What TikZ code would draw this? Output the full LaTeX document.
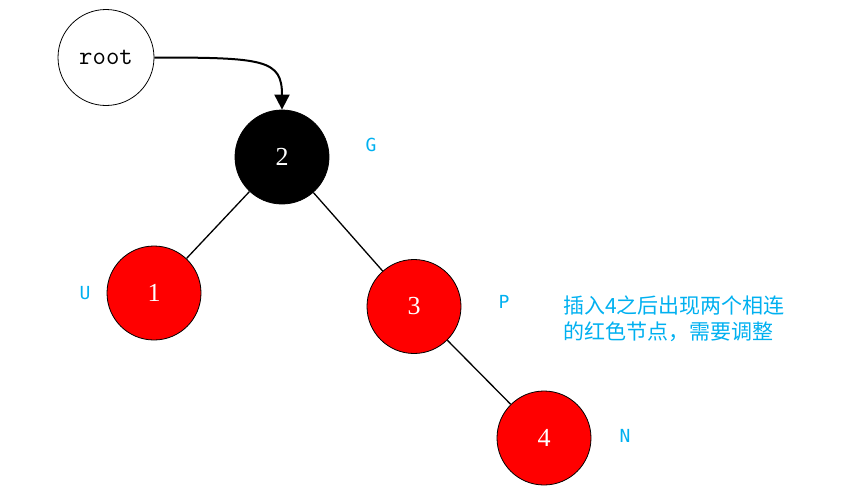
\documentclass[tikz,border=0pt]{standalone}
\usepackage{fontspec}
\setmainfont{Liberation Serif}
\newfontfamily\cjkfont{Noto Sans CJK SC}
\newfontfamily\lblfont{DejaVu Sans Mono}
\usetikzlibrary{arrows.meta}
\definecolor{lblblue}{RGB}{0,176,240}
\tikzset{
  rbnode/.style={circle,draw=black,line width=0.8pt,minimum size=94pt,inner sep=0pt,font=\fontsize{26}{26}\selectfont},
  rednode/.style={rbnode,fill=red,text=white},
  blacknode/.style={rbnode,fill=black,text=white},
  lbl/.style={text=lblblue,font=\lblfont\fontsize{18}{18}\selectfont,inner sep=0pt},
  edge/.style={line width=1.3pt},
}
\begin{document}
\begin{tikzpicture}[x=1pt,y=-1pt]
\useasboundingbox (0,0) rectangle (848,501);
\node[circle,draw=black,line width=0.8pt,minimum size=96pt,inner sep=0pt,font=\ttfamily\fontsize{26}{26}\selectfont] (root) at (106,57.5) {root};
\node[blacknode] (n2) at (282,157) {2};
\node[rednode] (n1) at (154,293) {1};
\node[rednode] (n3) at (414,306.5) {3};
\node[rednode] (n4) at (544,438) {4};
\draw[edge] (n2) -- (n1);
\draw[edge] (n2) -- (n3);
\draw[edge] (n3) -- (n4);
\draw[line width=2pt,-{Triangle[length=15pt,width=15pt]}] (root.east) .. controls +(110,0) and +(0,-50) .. (n2.north);
\node[lbl] (lg) at (371,145) {G};
\node[lbl] (lu) at (85,293) {U};
\node[lbl] (lp) at (504,302) {P};
\node[lbl] (ln) at (625,436) {N};
\node[anchor=west,inner sep=0pt,text=lblblue,font=\cjkfont\fontsize{21}{26}\selectfont,align=left] (note) at (563,319) {插入4之后出现两个相连\\的红色节点，需要调整};
\end{tikzpicture}
\end{document}
